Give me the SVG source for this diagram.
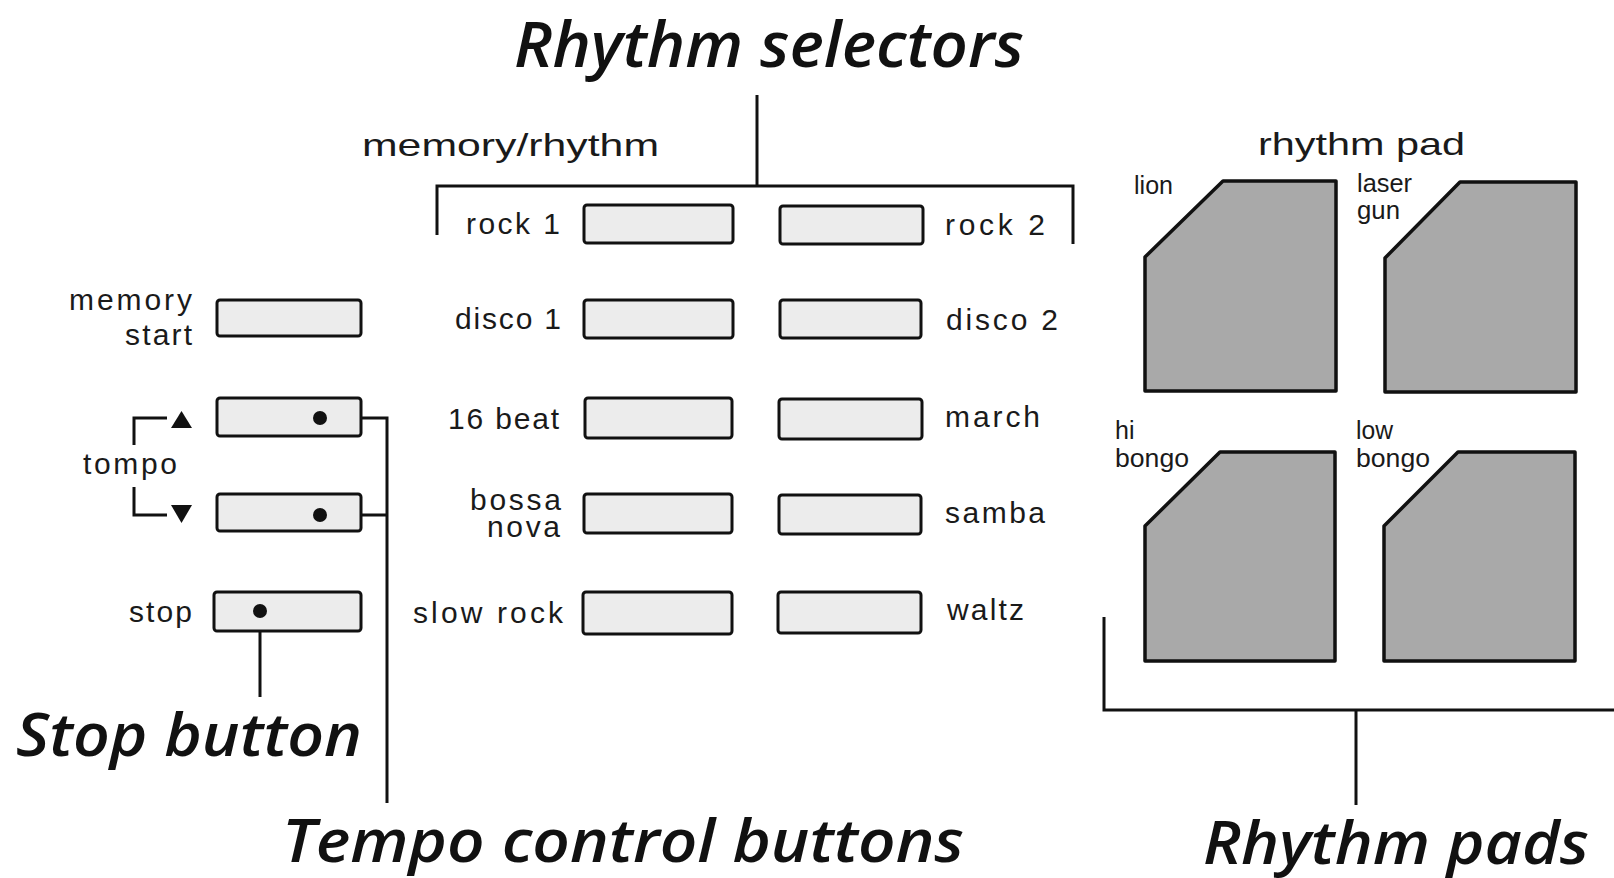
<svg xmlns="http://www.w3.org/2000/svg" width="1614" height="878" viewBox="0 0 1614 878">
<style>
.bg{fill:#ffffff}
.btn{fill:#ececec;stroke:#111;stroke-width:3}
.pad{fill:#a9a9a9;stroke:#111;stroke-width:3.5;stroke-linejoin:round}
.ln{fill:none;stroke:#111;stroke-width:3}
.lbl{font-family:"Liberation Sans",Arial,sans-serif;font-size:30px;fill:#1a1a1a}
.sm{font-family:"Liberation Sans",Arial,sans-serif;font-size:25px;fill:#1a1a1a}
.hd{font-family:"Liberation Sans",Arial,sans-serif;font-size:32px;fill:#1a1a1a}
.big{font-family:"Open Sans","Noto Sans",sans-serif;font-style:italic;font-weight:600;fill:#111}
.dot{fill:#111}
</style>
<rect class="bg" x="0" y="0" width="1614" height="878"/>

<g id="connectors">
  <path class="ln" d="M757,95 V186"/>
  <path class="ln" d="M437,235 V186 H1073 V244"/>
  <path class="ln" d="M320,418 H387 V803"/>
  <path class="ln" d="M320,515 H387"/>
  <path class="ln" d="M260,611 V697"/>
  <path class="ln" d="M1104,617 V710 H1614"/>
  <path class="ln" d="M1356,710 V805"/>
  <path class="ln" d="M134,445 V418 H167"/>
  <path class="ln" d="M134,487 V515 H167"/>
  <polygon class="dot" points="171,428 192,428 181.5,411"/>
  <polygon class="dot" points="171,505 192,505 181.5,523"/>
</g>

<g id="title-rhythm-selectors">
  <text class="big" x="514" y="67" font-size="64" textLength="510" lengthAdjust="spacingAndGlyphs">Rhythm selectors</text>
</g>
<g id="label-memory-rhythm">
  <text class="hd" x="362" y="156" textLength="297" lengthAdjust="spacingAndGlyphs">memory/rhythm</text>
</g>

<g id="btn-memory-start">
  <rect class="btn" x="217" y="300" width="144" height="36" rx="3"/>
  <text class="lbl" x="69" y="310" textLength="123">memory</text>
  <text class="lbl" x="125" y="345" textLength="67">start</text>
</g>
<g id="btn-tempo-up">
  <rect class="btn" x="217" y="398" width="144" height="38" rx="3"/>
  <circle class="dot" cx="320" cy="418" r="7"/>
</g>
<g id="label-tempo">
  <text class="lbl" x="83" y="474" textLength="94">tompo</text>
</g>
<g id="btn-tempo-down">
  <rect class="btn" x="217" y="494" width="144" height="37" rx="3"/>
  <circle class="dot" cx="320" cy="515" r="7"/>
</g>
<g id="btn-stop">
  <rect class="btn" x="214" y="592" width="147" height="39" rx="3"/>
  <circle class="dot" cx="260" cy="611" r="7"/>
  <text class="lbl" x="129" y="622" textLength="63">stop</text>
</g>

<g id="btn-rock1">
  <rect class="btn" x="584" y="205" width="149" height="38" rx="3"/>
  <text class="lbl" x="466" y="234" textLength="94">rock 1</text>
</g>
<g id="btn-rock2">
  <rect class="btn" x="780" y="206" width="143" height="38" rx="3"/>
  <text class="lbl" x="945" y="235" textLength="100">rock 2</text>
</g>
<g id="btn-disco1">
  <rect class="btn" x="584" y="300" width="149" height="38" rx="3"/>
  <text class="lbl" x="455" y="329" textLength="106">disco 1</text>
</g>
<g id="btn-disco2">
  <rect class="btn" x="780" y="300" width="141" height="38" rx="3"/>
  <text class="lbl" x="946" y="330" textLength="112">disco 2</text>
</g>
<g id="btn-16beat">
  <rect class="btn" x="585" y="398" width="147" height="40" rx="3"/>
  <text class="lbl" x="448" y="429" textLength="111">16 beat</text>
</g>
<g id="btn-march">
  <rect class="btn" x="779" y="399" width="143" height="40" rx="3"/>
  <text class="lbl" x="945" y="427" textLength="95">march</text>
</g>
<g id="btn-bossa-nova">
  <rect class="btn" x="584" y="494" width="148" height="39" rx="3"/>
  <text class="lbl" x="470" y="510" font-size="28" textLength="91">bossa</text>
  <text class="lbl" x="487" y="537" font-size="28" textLength="73">nova</text>
</g>
<g id="btn-samba">
  <rect class="btn" x="779" y="495" width="142" height="39" rx="3"/>
  <text class="lbl" x="945" y="523" textLength="100">samba</text>
</g>
<g id="btn-slow-rock">
  <rect class="btn" x="583" y="592" width="149" height="42" rx="3"/>
  <text class="lbl" x="413" y="623" textLength="150">slow rock</text>
</g>
<g id="btn-waltz">
  <rect class="btn" x="778" y="592" width="143" height="41" rx="3"/>
  <text class="lbl" x="947" y="620" textLength="77">waltz</text>
</g>

<g id="label-rhythm-pad">
  <text class="hd" x="1258" y="155" textLength="207" lengthAdjust="spacingAndGlyphs">rhythm pad</text>
</g>
<g id="pad-lion">
  <path class="pad" d="M1145,257 L1223,181 H1336 V391 H1145 Z"/>
  <text class="sm" x="1134" y="194" textLength="39" lengthAdjust="spacingAndGlyphs">lion</text>
</g>
<g id="pad-laser-gun">
  <path class="pad" d="M1385,258 L1460,182 H1576 V392 H1385 Z"/>
  <text class="sm" x="1357" y="192" textLength="55" lengthAdjust="spacingAndGlyphs">laser</text>
  <text class="sm" x="1357" y="219" textLength="43" lengthAdjust="spacingAndGlyphs">gun</text>
</g>
<g id="pad-hi-bongo">
  <path class="pad" d="M1145,526 L1220,452 H1335 V661 H1145 Z"/>
  <text class="sm" x="1115" y="439">hi</text>
  <text class="sm" x="1115" y="467" textLength="74" lengthAdjust="spacingAndGlyphs">bongo</text>
</g>
<g id="pad-low-bongo">
  <path class="pad" d="M1384,526 L1458,452 H1575 V661 H1384 Z"/>
  <text class="sm" x="1356" y="439" textLength="37" lengthAdjust="spacingAndGlyphs">low</text>
  <text class="sm" x="1356" y="467" textLength="74" lengthAdjust="spacingAndGlyphs">bongo</text>
</g>

<g id="label-stop-button">
  <text class="big" x="16" y="756" font-size="59" textLength="346" lengthAdjust="spacingAndGlyphs">Stop button</text>
</g>
<g id="label-tempo-control-buttons">
  <text class="big" x="282" y="862" font-size="59" textLength="682" lengthAdjust="spacingAndGlyphs">Tempo control buttons</text>
</g>
<g id="label-rhythm-pads">
  <text class="big" x="1203" y="864" font-size="59" textLength="386" lengthAdjust="spacingAndGlyphs">Rhythm pads</text>
</g>
</svg>
